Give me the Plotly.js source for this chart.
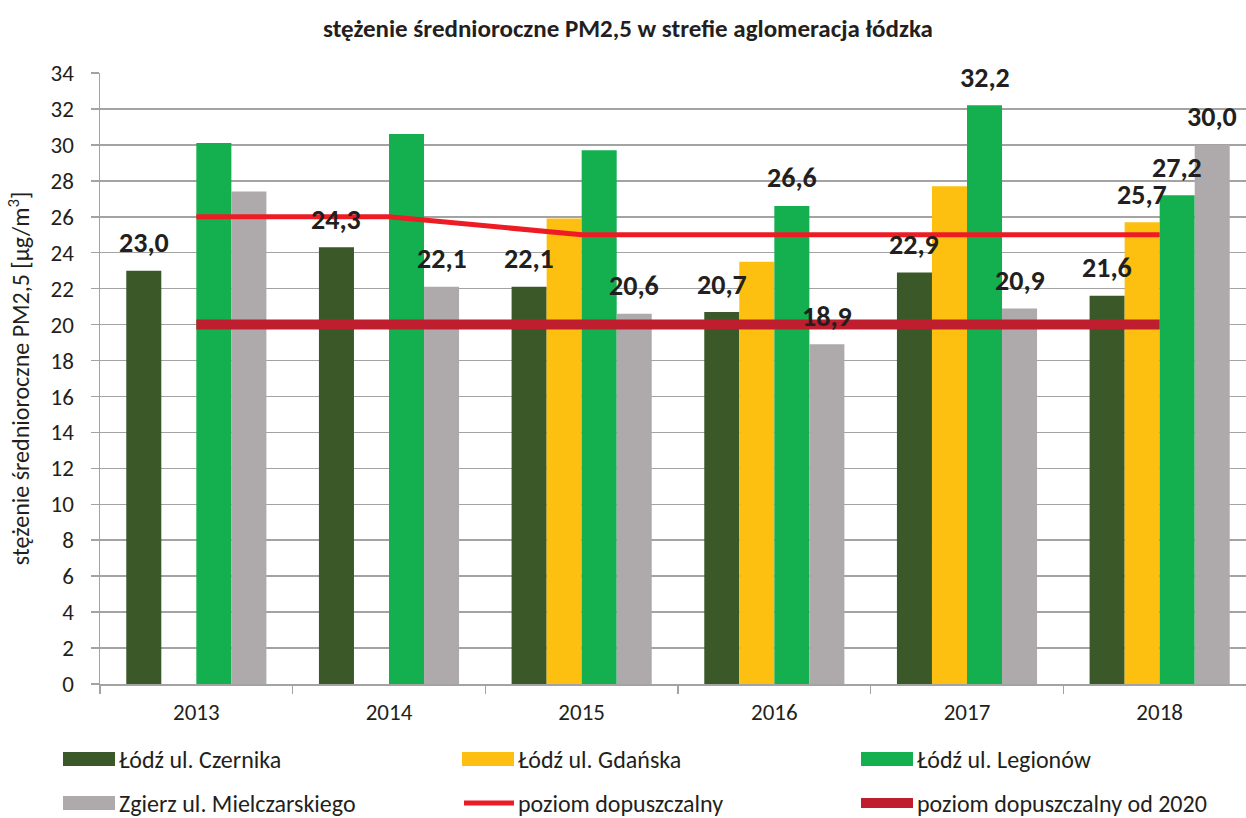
<!DOCTYPE html>
<html>
<head>
<meta charset="utf-8">
<script src="https://cdn.plot.ly/plotly-3.0.1.min.js"></script>
<style>
html,body{margin:0;padding:0;overflow:hidden;background:#fff;}
#chart{width:1256px;height:818px;}
</style>
</head>
<body>
<div id="chart"></div>
<script>
// ---- data ----
const years = ['2013', '2014', '2015', '2016', '2017', '2018'];
const czernika = [23.0, 24.3, 22.1, 20.7, 22.9, 21.6];
const gdanska = [null, null, 25.9, 23.5, 27.7, 25.7];
const legionow = [30.1, 30.6, 29.7, 26.6, 32.2, 27.2];
const zgierz = [27.4, 22.1, 20.6, 18.9, 20.9, 30.0];
const poziom = [26, 26, 25, 25, 25, 25];
const poziom2020 = [20, 20, 20, 20, 20, 20];
// which bars carry a value label in the reference
const czernikaLabelled = [true, true, true, true, true, true];
const gdanskaLabelled = [false, false, false, false, false, true];
const legionowLabelled = [false, false, false, true, true, true];
const zgierzLabelled = [false, true, true, true, true, true];

const names = ['Łódź ul. Czernika', 'Łódź ul. Gdańska', 'Łódź ul. Legionów',
               'Zgierz ul. Mielczarskiego', 'poziom dopuszczalny', 'poziom dopuszczalny od 2020'];
const colors = ['#3b5828', '#fdc010', '#14b04f', '#aeaaab', '#ed1c24', '#be1e2d'];

const FONT = "Carlito, Calibri, 'Liberation Sans Narrow', 'Open Sans', sans-serif";
const TXT = '#231f20';
const GRID = '#a3a3a3';
const BARGAP = 0.2727;

const barSeries = [czernika, gdanska, legionow, zgierz];
const labelFlags = [czernikaLabelled, gdanskaLabelled, legionowLabelled, zgierzLabelled];

const traces = [];
barSeries.forEach((vals, i) => {
  traces.push({
    type: 'bar', x: years, y: vals, name: names[i],
    marker: {color: colors[i], line: {width: 0}},
    showlegend: false, hoverinfo: 'x+y+name'
  });
});
traces.push({type: 'scatter', mode: 'lines', x: years, y: poziom, name: names[4],
  line: {color: colors[4], width: 5}, showlegend: false});
traces.push({type: 'scatter', mode: 'lines', x: years, y: poziom2020, name: names[5],
  line: {color: colors[5], width: 10}, showlegend: false});

// value labels, positioned at each bar's centre (category index + group offset)
const annotations = [];
const barW = (1 - BARGAP) / barSeries.length;
barSeries.forEach((vals, i) => {
  const off = (i - (barSeries.length - 1) / 2) * barW;
  vals.forEach((v, j) => {
    if (v === null || !labelFlags[i][j]) return;
    annotations.push({
      x: j + off, y: v, xref: 'x', yref: 'y',
      text: v.toFixed(1).replace('.', ','),
      showarrow: false, yanchor: 'middle', yshift: 28,
      font: {family: FONT, size: 28, color: TXT, weight: 'bold'}
    });
  });
});

// manual legend (3 columns x 2 rows) in paper coordinates
const L = 100, R = 0, T = 73, B = 134, W = 1256, H = 818;
const pw = W - L - R, ph = H - T - B;
const px = v => (v - L) / pw;
const py = v => (H - B - v) / ph;
const shapes = [];
const legCols = [63, 462, 861];
const legRows = [759, 803];
names.forEach((nm, k) => {
  const cx = legCols[k % 3], cy = legRows[Math.floor(k / 3)];
  if (k < 4) {
    shapes.push({type: 'rect', xref: 'paper', yref: 'paper',
      x0: px(cx), x1: px(cx + 52), y0: py(cy - 7), y1: py(cy + 7),
      fillcolor: colors[k], line: {width: 0}});
  } else {
    const w = k === 4 ? 5 : 10;
    shapes.push({type: 'line', xref: 'paper', yref: 'paper',
      x0: px(cx + (k === 4 ? 2 : 0)), x1: px(cx + 52), y0: py(cy), y1: py(cy),
      line: {color: colors[k], width: w}});
  }
  annotations.push({xref: 'paper', yref: 'paper', x: px(cx + 54), y: py(cy),
    xanchor: 'left', yanchor: 'middle', showarrow: false, text: nm,
    font: {family: FONT, size: 24, color: TXT}});
});

const layout = {
  width: W, height: H,
  margin: {l: L, r: R, t: T, b: B},
  paper_bgcolor: '#fff', plot_bgcolor: '#fff',
  barmode: 'group', bargap: BARGAP, bargroupgap: 0,
  showlegend: false,
  title: {text: 'stężenie średnioroczne PM2,5 w strefie aglomeracja łódzka',
    font: {family: FONT, size: 25, color: TXT, weight: 'bold'},
    x: 0.5, xref: 'container', xanchor: 'center', y: 1 - 28 / H, yanchor: 'middle'},
  font: {family: FONT, color: TXT},
  xaxis: {type: 'category', showline: true, linecolor: GRID, linewidth: 1.5,
    ticks: 'outside', tickson: 'boundaries', ticklen: 8, tickcolor: GRID, tickwidth: 1.5,
    ticklabelstandoff: 7,
    tickfont: {family: FONT, size: 23, color: TXT}, showgrid: false, zeroline: false},
  yaxis: {range: [0, 34], dtick: 2, tick0: 0, showline: true, linecolor: GRID, linewidth: 1.5,
    ticks: 'outside', ticklen: 8, tickcolor: GRID, tickwidth: 1.5,
    showgrid: true, gridcolor: GRID, gridwidth: 1.5, zeroline: false,
    tickfont: {family: FONT, size: 23, color: TXT}, ticklabelstandoff: 12,
    title: {text: 'stężenie średnioroczne PM2,5 [µg/m<sup>3</sup>]', standoff: 14,
      font: {family: FONT, size: 24, color: TXT}}},
  shapes: shapes,
  annotations: annotations
};

Plotly.newPlot('chart', traces, layout, {displayModeBar: false, staticPlot: true});
</script>
</body>
</html>
